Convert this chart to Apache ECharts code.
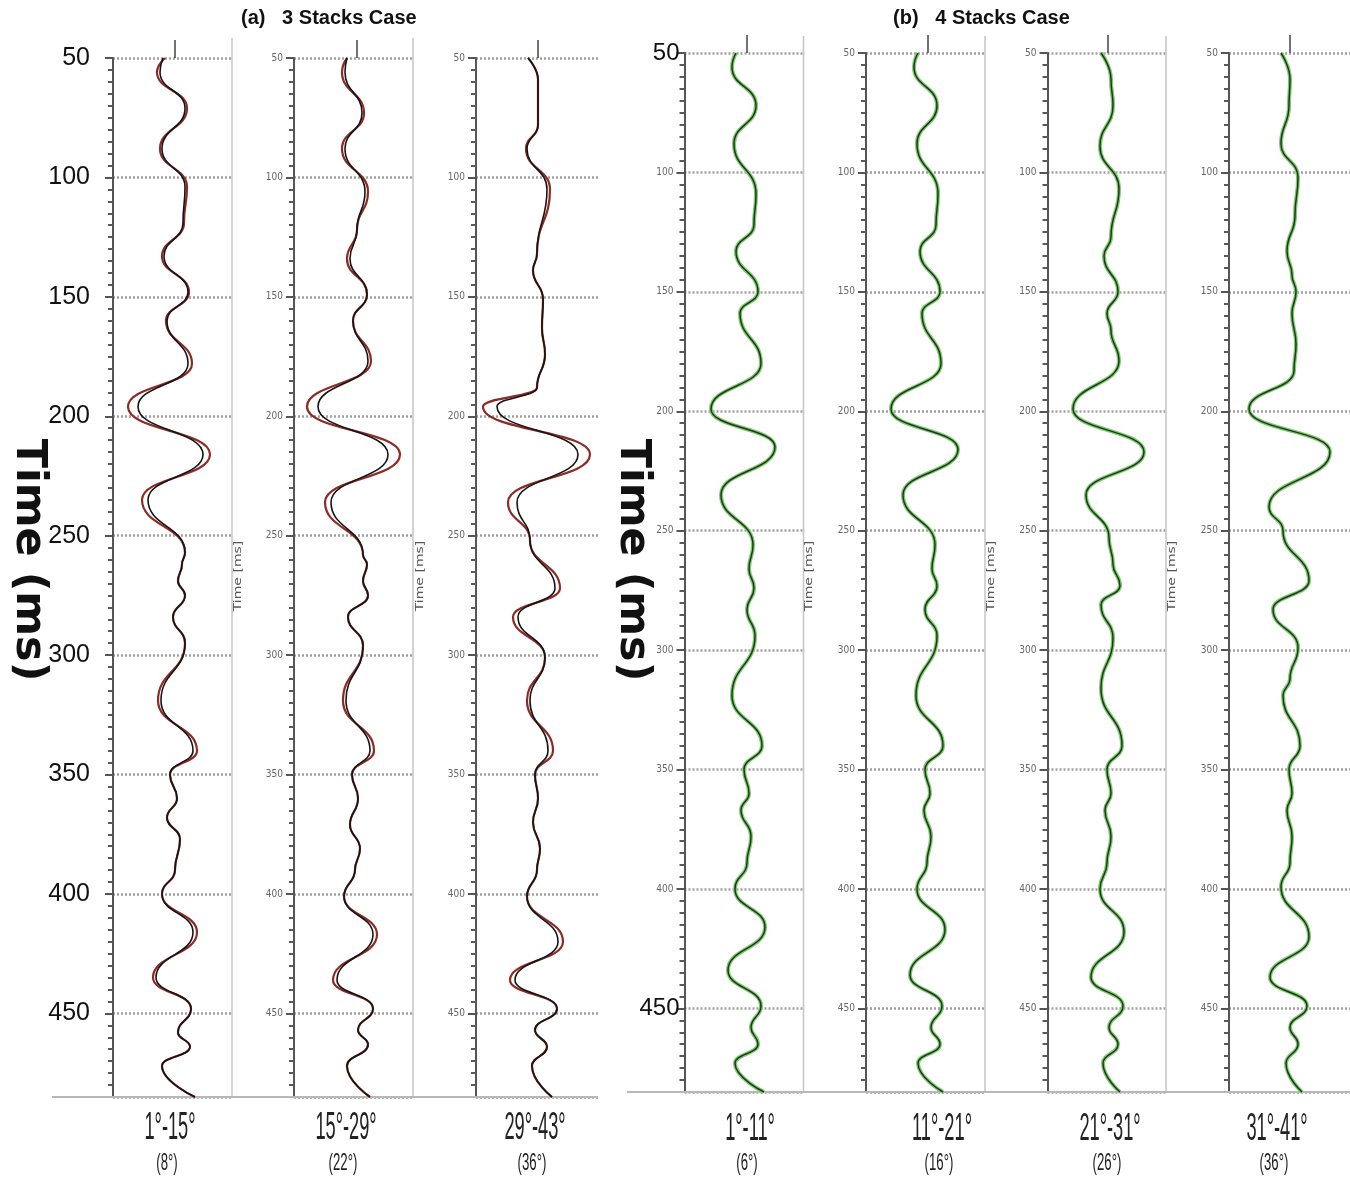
<!DOCTYPE html>
<html>
<head>
<meta charset="utf-8">
<script src="https://cdn.jsdelivr.net/npm/echarts@6/dist/echarts.min.js"></script>
<style>
html, body { margin: 0; padding: 0; background: #fff; }
#chart { width: 1350px; height: 1182px; }
</style>
</head>
<body>
<div id="chart"></div>
<script>
// --- 3 stacks case: time samples (ms) and trace amplitudes ---
var p1Time = [50, 56, 71, 88, 104, 119, 133, 148, 160, 178, 196, 216, 235, 257, 262, 269, 275, 284, 295, 319, 340, 350, 360, 368, 377, 390, 400, 416, 435, 448, 458, 464, 472, 485];
var p1Black = [-12, -15, 10, -13, 10, 8, -11, 13, -8, 13, -37, 28, -27, 10, 7, 3, 10, -2, 10, -14, 18, -5, 2, -8, 5, 0, -13, 18, -19, 16, 3, 15, -13, 20];
var p1Red = [-10, -18, 12, -15, 12, 9, -13, 14, -9, 17, -47, 35, -33, 10, 7, 3, 10, -2, 10, -17, 22, -5, 2, -8, 5, 0, -13, 22, -22, 16, 3, 15, -13, 20];

var p2Time = [50, 56, 73, 88, 106, 122, 134, 149, 160, 177, 196, 216, 236, 258, 262, 269, 275, 284, 296, 319, 340, 350, 360, 371, 381, 390, 401, 417, 436, 448, 457, 463, 472, 485];
var p2Black = [-10, -12, 5, -12, 8, 0, -7, 10, -4, 11, -39, 31, -26, 6, 10, 6, 11, -9, 6, -11, 13, -5, 1, -7, 3, -2, -13, 16, -20, 16, 1, 11, -10, 13];
var p2Red = [-10, -15, 7, -15, 11, 0, -10, 10, -4, 14, -50, 43, -32, 6, 10, 6, 11, -9, 6, -14, 17, -5, 1, -7, 3, -2, -13, 20, -24, 16, 1, 11, -10, 13];

var p3Time = [50, 59, 78, 88, 105, 132, 139, 151, 163, 174, 188, 196, 216, 236, 252, 272, 284, 301, 319, 340, 350, 360, 370, 381, 390, 401, 420, 436, 448, 457, 464, 472, 485];
var p3Black = [-10, 0, 0, -11, 9, -1, -5, 5, 4, 7, -1, -41, 40, -21, -8, 17, -20, 7, -8, 10, -3, 0, -5, 2, -1, -11, 20, -23, 19, -3, 9, -6, 14];
var p3Red = [-10, 0, 0, -12, 12, -1, -5, 5, 4, 7, -1, -55, 52, -30, -8, 22, -25, 7, -11, 15, -3, 0, -5, 2, -1, -11, 25, -28, 19, -3, 9, -6, 14];

// --- 4 stacks case ---
var r1Time = [50, 56, 72, 88, 109, 122, 133, 150, 159, 180, 199, 215, 235, 256, 266, 274, 283, 294, 319, 340, 350, 360, 367, 378, 389, 400, 416, 434, 449, 458, 465, 473, 485];
var r1Amp = [-11, -15, 9, -13, 9, 7, -11, 11, -7, 14, -36, 28, -26, 6, 2, 7, 0, 8, -15, 15, -3, 2, -6, 4, 0, -12, 18, -19, 14, 4, 11, -12, 17];

var r2Time = [50, 56, 72, 88, 109, 122, 133, 150, 159, 180, 199, 216, 235, 256, 266, 273, 283, 294, 319, 340, 350, 360, 367, 378, 389, 400, 417, 436, 449, 458, 465, 473, 485];
var r2Amp = [-10, -14, 9, -11, 10, 8, -8, 12, -6, 13, -37, 30, -25, 7, 4, 9, -3, 9, -12, 15, -3, 2, -4, 3, -1, -11, 17, -18, 14, 3, 12, -10, 15];

var r3Time = [50, 61, 72, 89, 107, 127, 135, 150, 159, 166, 179, 199, 217, 235, 253, 264, 273, 281, 295, 316, 340, 350, 360, 367, 378, 389, 400, 418, 437, 449, 458, 465, 473, 485];
var r3Amp = [-7, 3, 5, -8, 11, 3, -4, 10, -1, 3, 11, -35, 36, -22, 1, 5, 12, -7, 5, -7, 14, -1, 3, -3, 3, -1, -8, 16, -17, 15, 1, 10, -5, 12];

var r4Time = [50, 61, 72, 88, 102, 118, 133, 143, 150, 159, 172, 183, 199, 217, 240, 250, 271, 283, 299, 312, 319, 340, 350, 360, 367, 378, 389, 399, 420, 437, 449, 458, 465, 473, 485];
var r4Amp = [-9, 0, -1, -9, 8, 5, -3, 2, 6, 2, 6, 4, -41, 40, -21, -7, 19, -17, 8, 0, -7, 10, -1, 2, -3, 2, 0, -9, 19, -20, 17, 0, 8, -4, 12];

var angleRange3 = ['1°-15°', '15°-29°', '29°-43°'];
var angleMid3 = ['(8°)', '(22°)', '(36°)'];
var angleRange4 = ['1°-11°', '11°-21°', '21°-31°', '31°-41°'];
var angleMid4 = ['(6°)', '(16°)', '(26°)', '(36°)'];

var timeMin = 50;
var timeMax = 485;

// panel layout (pixels) - left group a, right group b
var panels = [
    {left: 113, width: 119, top: 58, xMin: -62, xMax: 57, label: 'big', traces: [[p1Time, p1Red], [p1Time, p1Black]], kind: 'red'},
    {left: 294, width: 119, top: 58, xMin: -63, xMax: 56, label: 'small', traces: [[p2Time, p2Red], [p2Time, p2Black]], kind: 'red'},
    {left: 476, width: 122, top: 58, xMin: -62, xMax: 60, label: 'small', traces: [[p3Time, p3Red], [p3Time, p3Black]], kind: 'red'},
    {left: 684.5, width: 119, top: 53, xMin: -62.5, xMax: 56.5, label: 'mixed', traces: [[r1Time, r1Amp], [r1Time, r1Amp]], kind: 'green'},
    {left: 866, width: 119, top: 53, xMin: -62, xMax: 57, label: 'small', traces: [[r2Time, r2Amp], [r2Time, r2Amp]], kind: 'green'},
    {left: 1047.5, width: 118.5, top: 53, xMin: -60.5, xMax: 58, label: 'small', traces: [[r3Time, r3Amp], [r3Time, r3Amp]], kind: 'green'},
    {left: 1229, width: 121, top: 53, xMin: -61, xMax: 60, label: 'small', traces: [[r4Time, r4Amp], [r4Time, r4Amp]], kind: 'green'}
];
var panelHeight = 1039;

function toPoints(time, amp) {
    return time.map(function (t, i) { return [amp[i], t]; });
}

function labelStyle(kind) {
    if (kind === 'big') {
        return {
            margin: 23, color: '#111', fontSize: 25, fontFamily: 'Liberation Sans, sans-serif',
            formatter: function (v) { return v % 50 === 0 ? String(v) : ''; }
        };
    }
    if (kind === 'mixed') {
        return {
            margin: 5,
            formatter: function (v) {
                if (v % 50 !== 0) return '';
                return (v === 50 || v === 450) ? '{big|' + v + '}' : '{small|' + v + '}';
            },
            rich: {
                big: {fontSize: 24, color: '#111', fontFamily: 'Liberation Sans, sans-serif'},
                small: {fontSize: 10, color: '#666', padding: [0, 6, 0, 0], fontFamily: 'DejaVu Sans Condensed, DejaVu Sans, sans-serif'}
            }
        };
    }
    return {
        margin: 11, color: '#666', fontSize: 10, fontFamily: 'DejaVu Sans Condensed, DejaVu Sans, sans-serif',
        formatter: function (v) { return v % 50 === 0 ? String(v) : ''; }
    };
}

var grids = [], xAxes = [], yAxes = [], series = [];
panels.forEach(function (p, i) {
    grids.push({left: p.left, top: p.top, width: p.width, height: panelHeight, outerBoundsMode: 'none'});
    xAxes.push({
        gridIndex: i, type: 'value', position: 'top', min: p.xMin, max: p.xMax,
        axisLine: {show: false, onZero: false},
        splitLine: {show: false},
        axisLabel: {show: false},
        axisTick: {show: true, customValues: [0], length: 18, lineStyle: {color: '#444', width: 1.5}}
    });
    yAxes.push({
        gridIndex: i, type: 'value', inverse: true, min: timeMin, max: timeMax, interval: 50,
        axisLine: {show: true, onZero: false, lineStyle: {color: '#555', width: 2}},
        axisTick: {show: true, length: 8, lineStyle: {color: '#555', width: 2}},
        minorTick: {show: true, splitNumber: 10, length: 5, lineStyle: {color: '#5a5a5a', width: 2}},
        splitLine: {show: true, lineStyle: {color: '#a0a0a0', width: 2.5, type: [2, 2]}},
        axisLabel: labelStyle(p.label)
    });
    var styles = p.kind === 'red'
        ? [{color: '#8e2a24', width: 2.2}, {color: '#151515', width: 1.6}]
        : [{color: '#7dcb6f', width: 4}, {color: '#1e3a1b', width: 1.5}];
    p.traces.forEach(function (tr, k) {
        series.push({
            type: 'line', xAxisIndex: i, yAxisIndex: i,
            data: toPoints(tr[0], tr[1]),
            smooth: 0.5, smoothMonotone: 'y',
            symbol: 'none', clip: false,
            lineStyle: styles[k],
            z: 3 + k
        });
    });
});

var graphics = [];
function text(x, y, str, font, opts) {
    opts = opts || {};
    graphics.push({
        type: 'text', x: x, y: y, rotation: opts.rotation || 0,
        scaleX: opts.scaleX || 1, scaleY: 1, z: 10,
        style: {text: str, font: font, fill: opts.fill || '#111', align: opts.align || 'center', verticalAlign: 'middle'}
    });
}
function line(x1, y1, x2, y2, color, width) {
    graphics.push({type: 'line', shape: {x1: x1, y1: y1, x2: x2, y2: y2}, z: 1,
        style: {stroke: color, lineWidth: width}});
}

// frame lines
[232, 413].forEach(function (x) { line(x, 38, x, 1097, '#c4c4c4', 1.5); });
[803.5, 985, 1166].forEach(function (x) { line(x, 36, x, 1092, '#c4c4c4', 1.5); });
line(52, 1097, 598, 1097, '#b8b8b8', 2);
line(627, 1092, 1350, 1092, '#b8b8b8', 2);

// titles
text(241, 18, '(a)   3 Stacks Case', 'bold 20px Liberation Sans', {align: 'left'});
text(893, 18, '(b)   4 Stacks Case', 'bold 20px Liberation Sans', {align: 'left'});
text(28, 560, 'Time (ms)', 'bold 43px DejaVu Sans', {rotation: -Math.PI / 2});
text(632, 560, 'Time (ms)', 'bold 43px DejaVu Sans', {rotation: -Math.PI / 2});

[238, 420, 809, 991, 1172].forEach(function (x) {
    text(x, 576, 'Time [ms]', '10px DejaVu Sans', {rotation: Math.PI / 2, scaleX: 1.4, fill: '#555'});
});

var mid3 = [170, 346, 535];
angleRange3.forEach(function (s, i) {
    text(mid3[i], 1129, s, '38px Liberation Sans', {scaleX: 0.48, fill: '#222'});
    text(mid3[i] - 3, 1163, angleMid3[i], '24px Liberation Sans', {scaleX: 0.55, fill: '#222'});
});
var mid4 = [750, 942, 1110, 1277];
angleRange4.forEach(function (s, i) {
    text(mid4[i], 1130, s, '38px Liberation Sans', {scaleX: 0.48, fill: '#222'});
    text(mid4[i] - 3, 1163, angleMid4[i], '24px Liberation Sans', {scaleX: 0.55, fill: '#222'});
});

var chart = echarts.init(document.getElementById('chart'));
chart.setOption({
    animation: false,
    backgroundColor: '#fff',
    grid: grids,
    xAxis: xAxes,
    yAxis: yAxes,
    series: series,
    graphic: graphics
});
</script>
</body>
</html>
